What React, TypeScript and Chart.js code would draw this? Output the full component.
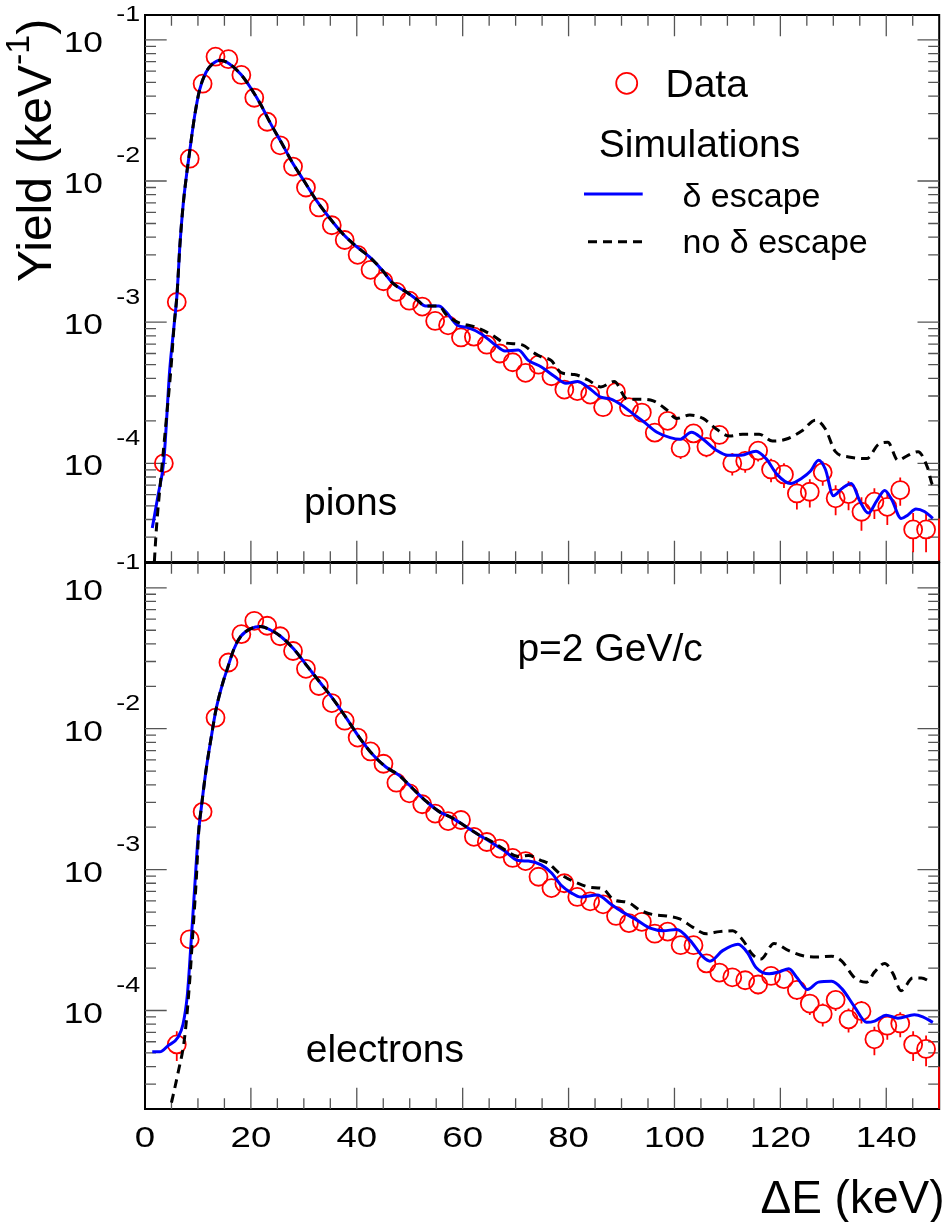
import React, { useEffect, useRef } from 'react';
import { Chart, registerables } from 'chart.js';

Chart.register(...registerables);

// ---------------- data ----------------
const X_MIN = 0;
const X_MAX = 150;
const Y_MIN = 2e-5;
const Y_MAX = 0.15;

// bin centres of the measured spectra (keV)
const binCenters = [
  3.56, 6.0, 8.44, 10.88, 13.32, 15.76, 18.2, 20.64, 23.08, 25.52,
  27.96, 30.4, 32.84, 35.28, 37.72, 40.16, 42.6, 45.04, 47.48, 49.92,
  52.36, 54.8, 57.24, 59.68, 62.12, 64.56, 67.0, 69.44, 71.88, 74.32,
  76.76, 79.2, 81.64, 84.08, 86.52, 88.96, 91.4, 93.84, 96.28, 98.72,
  101.16, 103.6, 106.04, 108.48, 110.92, 113.36, 115.8, 118.24, 120.68, 123.12,
  125.56, 128.0, 130.44, 132.88, 135.32, 137.76, 140.2, 142.64, 145.08, 147.52,
  149.96,
];

// pions: measured yield (keV^-1) and relative errors
const pionYield = [
  1.0e-4, 1.39e-3, 1.44e-2, 4.89e-2, 7.6e-2, 7.3e-2, 5.64e-2, 3.89e-2, 2.63e-2, 1.79e-2,
  1.265e-2, 9.0e-3, 6.5e-3, 4.86e-3, 3.82e-3, 3.0e-3, 2.35e-3, 1.95e-3, 1.64e-3, 1.42e-3,
  1.29e-3, 1.02e-3, 9.5e-4, 7.8e-4, 7.9e-4, 6.93e-4, 6.0e-4, 5.2e-4, 4.38e-4, 5.0e-4,
  4.14e-4, 3.33e-4, 3.25e-4, 3.07e-4, 2.5e-4, 3.2e-4, 2.5e-4, 2.29e-4, 1.65e-4, 2.0e-4,
  1.28e-4, 1.63e-4, 1.31e-4, 1.59e-4, 1.0e-4, 1.04e-4, 1.23e-4, 9.05e-5, 8.35e-5, 6.12e-5,
  6.29e-5, 8.63e-5, 5.65e-5, 6.05e-5, 4.54e-5, 5.35e-5, 4.92e-5, 6.47e-5, 3.4e-5, 3.4e-5,
  3.06e-5,
];
const pionRelErr = [
  0.18, 0.05, 0.015, 0.008, 0.007, 0.007, 0.008, 0.009, 0.011, 0.014,
  0.016, 0.019, 0.022, 0.026, 0.029, 0.033, 0.037, 0.041, 0.045, 0.048,
  0.05, 0.057, 0.059, 0.065, 0.064, 0.069, 0.074, 0.079, 0.086, 0.081,
  0.089, 0.099, 0.1, 0.103, 0.114, 0.101, 0.114, 0.119, 0.141, 0.128,
  0.16, 0.142, 0.158, 0.143, 0.181, 0.177, 0.163, 0.19, 0.198, 0.231,
  0.228, 0.195, 0.24, 0.232, 0.268, 0.247, 0.258, 0.225, 0.31, 0.31,
  0.33,
];

// electrons: measured yield (first bin empty)
const electronX = binCenters.slice(1);
const electronYield = [
  5.75e-5, 3.2e-4, 2.57e-3, 1.197e-2, 2.95e-2, 4.69e-2, 5.83e-2, 5.38e-2, 4.53e-2, 3.56e-2,
  2.66e-2, 2.01e-2, 1.52e-2, 1.14e-2, 8.65e-3, 6.9e-3, 5.64e-3, 4.14e-3, 3.48e-3, 2.91e-3,
  2.5e-3, 2.21e-3, 2.25e-3, 1.71e-3, 1.57e-3, 1.41e-3, 1.21e-3, 1.15e-3, 8.9e-4, 7.4e-4,
  8.0e-4, 6.4e-4, 5.96e-4, 5.67e-4, 4.69e-4, 4.17e-4, 4.26e-4, 3.51e-4, 3.63e-4, 2.91e-4,
  2.91e-4, 2.16e-4, 1.86e-4, 1.72e-4, 1.64e-4, 1.53e-4, 1.76e-4, 1.67e-4, 1.4e-4, 1.12e-4,
  9.46e-5, 1.19e-4, 8.65e-5, 9.9e-5, 6.25e-5, 7.8e-5, 8.1e-5, 5.75e-5, 5.34e-5, 3.0e-5,
];
const electronRelErr = [
  0.238, 0.101, 0.036, 0.0165, 0.0105, 0.0083, 0.0075, 0.0078, 0.0085, 0.0096,
  0.011, 0.0128, 0.0147, 0.017, 0.019, 0.022, 0.024, 0.028, 0.031, 0.034,
  0.036, 0.038, 0.038, 0.044, 0.046, 0.048, 0.052, 0.053, 0.061, 0.066,
  0.064, 0.071, 0.074, 0.076, 0.083, 0.089, 0.088, 0.097, 0.095, 0.106,
  0.106, 0.123, 0.133, 0.138, 0.141, 0.146, 0.136, 0.14, 0.153, 0.171,
  0.186, 0.166, 0.194, 0.182, 0.229, 0.205, 0.201, 0.238, 0.247, 0.33,
];

// simulations, pions
const pionEscX = [
  1.37, 2.5, 3.56, 4.68, 5.5, 6.05, 6.6, 7.2, 7.8, 8.4, 9.36, 10.3, 11.5, 12.8, 14.2,
  15.9, 18.1, 20.0, 21.8, 23.7, 25.6, 27.8, 29.9, 32.4, 34.9, 37.4, 39.9, 42.4, 44.9, 46.8,
  49.3, 51.2, 53.0, 55.5, 56.8, 59.0, 61.1, 63.6, 66.1, 68.0, 70.5, 72.4, 74.8, 77.3, 79.5,
  81.7, 83.6, 86.1, 88.0, 89.8, 92.0, 94.2, 96.7, 99.2, 101.0, 103.2, 105.4, 107.9, 110.1, 112.6,
  115.4, 117.3, 119.4, 121.9, 124.1, 125.7, 127.2, 128.5, 130.0, 131.6, 133.4, 135.0, 136.6, 138.2, 139.7,
  141.0, 142.8, 144.1, 145.6, 147.2, 148.8,
];
const pionEscY = [
  3.48e-5, 6.03e-5, 1.05e-4, 4.65e-4, 9.55e-4, 1.58e-3, 3.55e-3, 6.76e-3, 1.07e-2, 1.58e-2, 2.87e-2, 4.41e-2, 5.87e-2, 6.78e-2, 7.18e-2,
  6.78e-2, 5.7e-2, 4.54e-2, 3.51e-2, 2.56e-2, 1.92e-2, 1.36e-2, 1.02e-2, 7.26e-3, 5.45e-3, 4.21e-3, 3.44e-3, 2.9e-3, 2.31e-3, 1.89e-3,
  1.64e-3, 1.46e-3, 1.3e-3, 1.3e-3, 1.19e-3, 9.51e-4, 9.12e-4, 8.22e-4, 6.93e-4, 6.25e-4, 6.35e-4, 5.36e-4, 4.83e-4, 4.14e-4, 3.69e-4,
  3.8e-4, 3.48e-4, 2.94e-4, 2.85e-4, 2.62e-4, 2.27e-4, 1.97e-4, 1.66e-4, 1.52e-4, 1.48e-4, 1.66e-4, 1.48e-4, 1.24e-4, 1.14e-4, 1.14e-4,
  1.22e-4, 1.08e-4, 8.32e-5, 7.21e-5, 7.87e-5, 8.81e-5, 1.05e-4, 9.08e-5, 5.9e-5, 6.62e-5, 7.21e-5, 5.42e-5, 4.44e-5, 5.42e-5, 6.43e-5,
  5.57e-5, 4.07e-5, 4.31e-5, 4.75e-5, 4.56e-5, 4.07e-5,
];
const pionNoEscX = [
  1.6, 2.18, 3.12, 4.0, 4.9, 5.5, 6.05, 6.6, 7.2, 7.8, 8.4, 9.36, 10.3, 11.5, 12.8,
  14.2, 15.9, 18.1, 20.0, 21.8, 23.7, 25.6, 27.8, 29.9, 32.4, 34.9, 37.4, 39.9, 42.4, 44.9,
  46.8, 49.3, 51.2, 53.0, 55.5, 57.0, 59.0, 62.4, 65.5, 68.0, 71.1, 73.6, 74.84, 76.7, 78.6,
  81.1, 83.6, 86.1, 88.6, 91.1, 93.6, 96.0, 98.5, 100.4, 102.9, 105.4, 107.9, 110.4, 112.9, 116.0,
  118.5, 121.0, 124.1, 126.6, 128.5, 130.4, 132.9, 136.3, 138.5, 140.3, 142.2, 144.1, 146.0, 147.8, 148.8,
  149.9,
];
const pionNoEscY = [
  1.58e-5, 3.55e-5, 8.81e-5, 2.0e-4, 4.68e-4, 9.55e-4, 1.58e-3, 3.55e-3, 6.76e-3, 1.07e-2, 1.58e-2, 2.87e-2, 4.41e-2, 5.87e-2, 6.78e-2,
  7.18e-2, 6.78e-2, 5.7e-2, 4.54e-2, 3.51e-2, 2.56e-2, 1.92e-2, 1.36e-2, 1.02e-2, 7.26e-3, 5.45e-3, 4.21e-3, 3.44e-3, 2.9e-3, 2.31e-3,
  1.89e-3, 1.64e-3, 1.46e-3, 1.3e-3, 1.3e-3, 1.12e-3, 1.0e-3, 9.23e-4, 8.13e-4, 7.13e-4, 6.93e-4, 6.01e-4, 5.68e-4, 5.36e-4, 4.39e-4,
  4.26e-4, 3.91e-4, 3.48e-4, 3.8e-4, 2.85e-4, 2.85e-4, 2.77e-4, 2.4e-4, 2.08e-4, 2.2e-4, 2.08e-4, 1.75e-4, 1.56e-4, 1.61e-4, 1.61e-4,
  1.44e-4, 1.48e-4, 1.7e-4, 2.02e-4, 1.75e-4, 1.21e-4, 1.11e-4, 1.08e-4, 1.36e-4, 1.41e-4, 1.05e-4, 1.14e-4, 1.21e-4, 9.33e-5, 7.02e-5,
  6.92e-5,
];

// simulations, electrons
const eleEscX = [
  1.37, 2.8, 4.37, 6.24, 7.17, 8.0, 8.73, 9.36, 10.0, 10.6, 11.5, 12.5, 13.4, 14.7, 15.6,
  16.8, 18.1, 20.0, 21.8, 23.7, 25.6, 28.1, 30.6, 33.1, 35.6, 38.1, 40.5, 43.0, 45.5, 48.0,
  50.5, 53.0, 55.5, 58.0, 60.5, 63.0, 65.5, 68.0, 70.5, 72.4, 74.84, 76.7, 78.6, 80.5, 82.3,
  85.4, 88.0, 90.4, 92.9, 95.4, 97.9, 100.4, 102.9, 105.4, 106.7, 109.1, 112.0, 113.8, 115.4, 117.9,
  119.8, 121.6, 123.2, 125.1, 127.2, 129.7, 131.6, 134.1, 136.3, 137.8, 140.0, 142.2, 145.3, 146.9, 148.8,
];
const eleEscY = [
  5.09e-5, 5.09e-5, 5.64e-5, 6.47e-5, 7.96e-5, 1.29e-4, 3.16e-4, 7.23e-4, 1.66e-3, 2.68e-3, 4.99e-3, 8.65e-3, 1.36e-2, 2.12e-2, 2.7e-2,
  3.68e-2, 4.53e-2, 5.13e-2, 5.31e-2, 5.02e-2, 4.53e-2, 3.68e-2, 2.79e-2, 2.12e-2, 1.61e-2, 1.18e-2, 8.65e-3, 6.56e-3, 5.35e-3, 4.66e-3,
  3.78e-3, 3.08e-3, 2.59e-3, 2.33e-3, 2.03e-3, 1.77e-3, 1.55e-3, 1.35e-3, 1.16e-3, 1.15e-3, 1.08e-3, 9.53e-4, 7.74e-4, 6.84e-4, 6.38e-4,
  6.61e-4, 5.68e-4, 4.95e-4, 4.38e-4, 3.84e-4, 3.68e-4, 3.76e-4, 3.16e-4, 2.4e-4, 2.24e-4, 2.66e-4, 2.95e-4, 2.57e-4, 2.02e-4, 1.82e-4,
  1.88e-4, 1.98e-4, 1.7e-4, 1.41e-4, 1.59e-4, 1.61e-4, 1.43e-4, 1.05e-4, 8.24e-5, 8.41e-5, 9.27e-5, 8.83e-5, 9.33e-5, 9.02e-5, 8.24e-5,
];
const eleNoEscX = [
  5.0, 6.24, 7.49, 8.42, 9.05, 9.67, 10.2, 10.6, 11.5, 12.5, 13.4, 14.7, 15.6, 16.8, 18.1,
  20.0, 21.8, 23.7, 25.6, 28.1, 30.6, 33.1, 35.6, 38.1, 40.5, 43.0, 45.5, 48.0, 50.5, 53.0,
  55.5, 58.0, 60.5, 63.0, 65.5, 68.0, 70.5, 72.4, 74.84, 76.1, 78.6, 81.7, 84.2, 86.4, 88.6,
  91.1, 93.6, 96.0, 98.5, 101.0, 103.5, 106.0, 108.5, 111.0, 112.9, 114.8, 116.3, 118.8, 121.6, 124.7,
  127.2, 129.7, 131.6, 134.1, 136.3, 137.8, 139.7, 141.3, 142.8, 145.0, 146.6, 148.5,
];
const eleNoEscY = [
  2.22e-5, 3.61e-5, 6.47e-5, 1.58e-4, 3.63e-4, 8.3e-4, 2.0e-3, 2.68e-3, 4.99e-3, 8.65e-3, 1.36e-2, 2.12e-2, 2.7e-2, 3.68e-2, 4.53e-2,
  5.13e-2, 5.31e-2, 5.02e-2, 4.53e-2, 3.68e-2, 2.79e-2, 2.12e-2, 1.61e-2, 1.18e-2, 8.65e-3, 6.56e-3, 5.35e-3, 4.66e-3, 3.78e-3, 3.08e-3,
  2.59e-3, 2.33e-3, 2.03e-3, 1.77e-3, 1.58e-3, 1.38e-3, 1.24e-3, 1.26e-3, 1.16e-3, 1.11e-3, 9.2e-4, 8.02e-4, 7.48e-4, 7.33e-4, 6.08e-4,
  5.87e-4, 5.13e-4, 4.79e-4, 4.69e-4, 4.47e-4, 3.89e-4, 3.51e-4, 3.63e-4, 3.68e-4, 3.16e-4, 2.48e-4, 2.32e-4, 2.99e-4, 2.66e-4, 2.43e-4,
  2.4e-4, 2.43e-4, 2.24e-4, 1.7e-4, 1.59e-4, 1.88e-4, 2.16e-4, 1.82e-4, 1.38e-4, 1.7e-4, 1.7e-4, 1.59e-4,
];

const xTickLabels = ['0', '20', '40', '60', '80', '100', '120', '140'];
const yLabelExponents = [-1, -2, -3, -4];

// ---------------- style / layout ----------------
const W = 950;
const H = 1222;
const FONT = '"Liberation Sans", Arial, Helvetica, sans-serif';
const RED = '#ff0000';
const BLUE = '#0000ff';
const MARKER_R = 9;
const FRAME_LEFT = 145;
const FRAME_RIGHT = 946.7;
const LABEL_STRETCH = 1.22;

function stretchedText(ctx: any, text: string, x: number, y: number, align: string, font: string) {
  ctx.save();
  ctx.font = font;
  ctx.textAlign = align;
  ctx.textBaseline = 'alphabetic';
  ctx.translate(x, y);
  ctx.scale(LABEL_STRETCH, 1);
  ctx.fillText(text, 0, 0);
  ctx.restore();
}

function drawYLabels(ctx: any, yScale: any) {
  ctx.fillStyle = '#000';
  yLabelExponents.forEach((e) => {
    const py = yScale.getPixelForValue(Math.pow(10, e));
    stretchedText(ctx, '10', 103, py + 12, 'right', `29px ${FONT}`);
    stretchedText(ctx, String(e), 128.3, py - 18.6, 'center', `22px ${FONT}`);
  });
}

function drawTopExtras(ctx: any, chart: any) {
  drawYLabels(ctx, chart.scales.y);
  ctx.save();
  ctx.fillStyle = '#000';
  ctx.textBaseline = 'alphabetic';
  ctx.textAlign = 'left';
  // legend
  ctx.strokeStyle = RED;
  ctx.lineWidth = 1.8;
  ctx.beginPath();
  ctx.arc(626.7, 83.3, 10.5, 0, Math.PI * 2);
  ctx.stroke();
  ctx.font = `39px ${FONT}`;
  ctx.fillText('Data', 665.5, 96.7);
  ctx.fillText('Simulations', 598.7, 156.7);
  ctx.strokeStyle = BLUE;
  ctx.lineWidth = 3;
  ctx.beginPath();
  ctx.moveTo(584, 194);
  ctx.lineTo(642.7, 194);
  ctx.stroke();
  ctx.strokeStyle = '#000';
  ctx.setLineDash([9, 6]);
  ctx.beginPath();
  ctx.moveTo(588, 241.7);
  ctx.lineTo(642.7, 241.7);
  ctx.stroke();
  ctx.setLineDash([]);
  ctx.font = `34px ${FONT}`;
  ctx.fillText('δ escape', 682.5, 206.7);
  ctx.fillText('no δ escape', 682.5, 253.3);
  // panel label
  ctx.font = `39px ${FONT}`;
  ctx.fillText('pions', 304, 514.8);
  // y title
  ctx.save();
  ctx.translate(51, 282);
  ctx.rotate(-Math.PI / 2);
  ctx.font = `48px ${FONT}`;
  const main = 'Yield (keV';
  ctx.fillText(main, 0, 0);
  const w1 = ctx.measureText(main).width;
  ctx.font = `34px ${FONT}`;
  ctx.fillText('-1', w1, -22);
  const w2 = ctx.measureText('-1').width;
  ctx.font = `48px ${FONT}`;
  ctx.fillText(')', w1 + w2, 0);
  ctx.restore();
  ctx.restore();
}

function drawBottomExtras(ctx: any, chart: any) {
  drawYLabels(ctx, chart.scales.y);
  const xs = chart.scales.x;
  ctx.save();
  ctx.fillStyle = '#000';
  xTickLabels.forEach((t) => {
    stretchedText(ctx, t, xs.getPixelForValue(Number(t)), 1146.7, 'center', `30px ${FONT}`);
  });
  ctx.textBaseline = 'alphabetic';
  ctx.textAlign = 'left';
  ctx.font = `39px ${FONT}`;
  ctx.fillText('electrons', 305.7, 1062.3);
  ctx.fillText('p=2 GeV/c', 517.4, 661.3);
  ctx.textAlign = 'right';
  ctx.font = `46px ${FONT}`;
  ctx.fillText('ΔE (keV)', 944.5, 1213);
  ctx.restore();
}

function rootPlugin(p: any) {
  return {
    id: 'rootStyle',
    beforeDatasetsDraw(chart: any) {
      const { ctx, chartArea: a } = chart;
      const xs = chart.scales.x;
      const ys = chart.scales.y;
      ctx.save();
      // frame
      ctx.strokeStyle = '#000';
      ctx.lineWidth = 2;
      ctx.strokeRect(a.left, a.top, a.right - a.left, a.bottom - a.top);
      // ticks
      ctx.strokeStyle = '#555';
      ctx.lineWidth = 1.3;
      ctx.beginPath();
      for (let v = X_MIN + 5; v < X_MAX; v += 5) {
        const px = xs.getPixelForValue(v);
        const len = v % 20 === 0 ? 21.3 : 10.7;
        ctx.moveTo(px, a.bottom);
        ctx.lineTo(px, a.bottom - len);
        ctx.moveTo(px, a.top);
        ctx.lineTo(px, a.top + len);
      }
      for (let d = -5; d <= 0; d++) {
        for (let m = 1; m <= 9; m++) {
          const v = m * Math.pow(10, d);
          if (v < Y_MIN * 1.001 || v > Y_MAX) continue;
          const py = ys.getPixelForValue(v);
          const len = m === 1 ? 21.7 : 11;
          ctx.moveTo(a.left, py);
          ctx.lineTo(a.left + len, py);
          ctx.moveTo(a.right, py);
          ctx.lineTo(a.right - len, py);
        }
      }
      ctx.stroke();
      // error bars (drawn outside the markers)
      ctx.save();
      ctx.beginPath();
      ctx.rect(a.left - 4, a.top, a.right - a.left + 8, a.bottom - a.top);
      ctx.clip();
      ctx.strokeStyle = RED;
      ctx.lineWidth = 1.8;
      ctx.beginPath();
      p.dataX.forEach((xv: number, i: number) => {
        const yv = p.dataY[i];
        const e = p.dataErr[i] * yv;
        const px = xs.getPixelForValue(xv);
        const py = ys.getPixelForValue(yv);
        const r = xv >= X_MAX - 0.1 ? 0 : MARKER_R;
        const pHi = ys.getPixelForValue(yv + e);
        const pLo = ys.getPixelForValue(Math.max(yv - e, 1e-12));
        if (pHi < py - r) {
          ctx.moveTo(px, py - r);
          ctx.lineTo(px, pHi);
        }
        if (pLo > py + r) {
          ctx.moveTo(px, py + r);
          ctx.lineTo(px, pLo);
        }
      });
      ctx.stroke();
      ctx.restore();
      ctx.restore();
    },
    afterDraw(chart: any) {
      p.extras(chart.ctx, chart);
    },
  };
}

function makeConfig(p: any): any {
  const pts = p.dataX.map((x: number, i: number) => ({ x, y: p.dataY[i] }));
  const esc = p.escX.map((x: number, i: number) => ({ x, y: p.escY[i] }));
  const noEsc = p.noEscX.map((x: number, i: number) => ({ x, y: p.noEscY[i] }));
  return {
    type: 'scatter',
    data: {
      datasets: [
        {
          label: 'no δ escape',
          data: noEsc,
          showLine: true,
          borderColor: '#000',
          borderWidth: 3,
          borderDash: [9, 6],
          pointRadius: 0,
          fill: false,
          cubicInterpolationMode: 'monotone',
          order: 1,
          clip: 0,
        },
        {
          label: 'δ escape',
          data: esc,
          showLine: true,
          borderColor: BLUE,
          borderWidth: 3,
          pointRadius: 0,
          fill: false,
          cubicInterpolationMode: 'monotone',
          order: 2,
          clip: 0,
        },
        {
          label: 'Data',
          data: pts,
          showLine: false,
          pointStyle: 'circle',
          pointRadius: (c: any) => (c.raw && c.raw.x >= X_MAX - 0.1 ? 0 : MARKER_R),
          pointBorderColor: RED,
          pointBackgroundColor: 'rgba(0,0,0,0)',
          pointBorderWidth: 1.8,
          borderColor: RED,
          backgroundColor: 'rgba(0,0,0,0)',
          order: 3,
          clip: 0,
        },
      ],
    },
    options: {
      animation: false,
      responsive: false,
      events: [],
      layout: {
        padding: { left: FRAME_LEFT, right: W - FRAME_RIGHT, top: p.top, bottom: H - p.bottom },
      },
      scales: {
        x: { type: 'linear', min: X_MIN, max: X_MAX, display: false },
        y: { type: 'logarithmic', min: Y_MIN, max: Y_MAX, display: false },
      },
      plugins: { legend: { display: false }, tooltip: { enabled: false } },
    },
    plugins: [rootPlugin(p)],
  };
}

const topPanel = {
  top: 15,
  bottom: 562,
  dataX: binCenters,
  dataY: pionYield,
  dataErr: pionRelErr,
  escX: pionEscX,
  escY: pionEscY,
  noEscX: pionNoEscX,
  noEscY: pionNoEscY,
  extras: drawTopExtras,
};

const bottomPanel = {
  top: 563,
  bottom: 1109,
  dataX: electronX,
  dataY: electronYield,
  dataErr: electronRelErr,
  escX: eleEscX,
  escY: eleEscY,
  noEscX: eleNoEscX,
  noEscY: eleNoEscY,
  extras: drawBottomExtras,
};

export default function App() {
  const topRef = useRef<HTMLCanvasElement>(null);
  const botRef = useRef<HTMLCanvasElement>(null);
  useEffect(() => {
    document.body.style.margin = '0';
    const c1 = new Chart(topRef.current as HTMLCanvasElement, makeConfig(topPanel));
    const c2 = new Chart(botRef.current as HTMLCanvasElement, makeConfig(bottomPanel));
    return () => {
      c1.destroy();
      c2.destroy();
    };
  }, []);
  const cs: any = { position: 'absolute', left: 0, top: 0, width: W, height: H };
  return (
    <div style={{ position: 'relative', width: W, height: H, background: '#fff' }}>
      <canvas ref={topRef} width={W} height={H} style={cs} />
      <canvas ref={botRef} width={W} height={H} style={cs} />
    </div>
  );
}
